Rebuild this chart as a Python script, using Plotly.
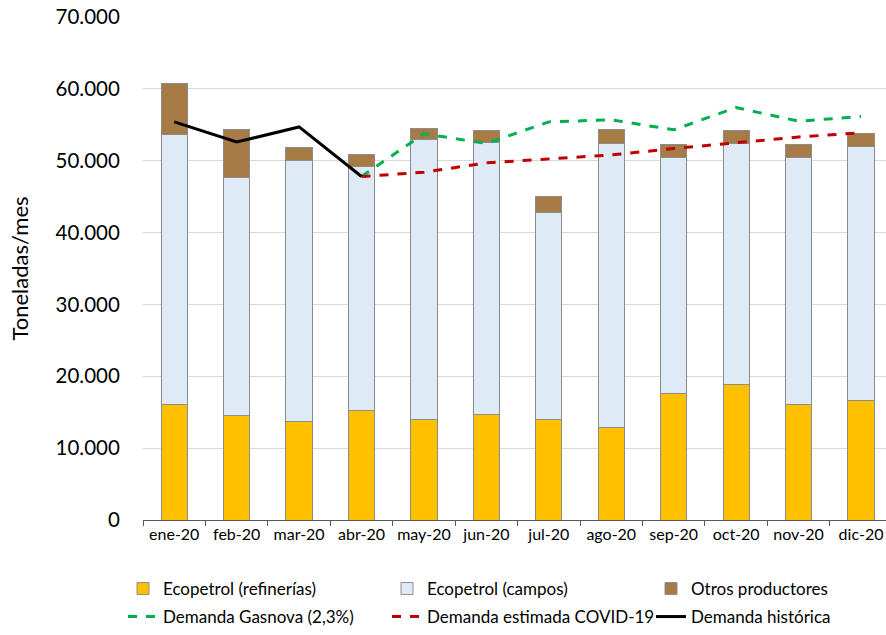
import plotly.graph_objects as go

meses = ["ene-20", "feb-20", "mar-20", "abr-20", "may-20", "jun-20",
         "jul-20", "ago-20", "sep-20", "oct-20", "nov-20", "dic-20"]

refinerias = [16100, 14500, 13700, 15200, 14000, 14700, 14000, 12900, 17600, 18900, 16100, 16600]
campos = [37500, 33200, 36300, 34000, 38900, 37800, 28800, 39500, 32900, 33550, 34400, 35400]
otros = [7100, 6700, 1800, 1600, 1600, 1700, 2200, 2000, 1800, 1750, 1800, 1850]

meses_hist = ["ene-20", "feb-20", "mar-20", "abr-20"]
demanda_historica = [55400, 52600, 54700, 47800]

meses_proy = ["abr-20", "may-20", "jun-20", "jul-20", "ago-20", "sep-20",
              "oct-20", "nov-20", "dic-20"]
demanda_gasnova = [47800, 53750, 52400, 55400, 55700, 54300, 57400, 55500, 56150]
demanda_covid = [47800, 48400, 49700, 50200, 50800, 51700, 52450, 53300, 53900]

FONT = "Lato, Calibri, sans-serif"
W, H = 886, 635
ML, MT, MB = 143, 17, 114
borde = dict(color="#8c8c8c", width=1)

fig = go.Figure()
fig.add_trace(go.Bar(x=meses, y=refinerias, name="Ecopetrol (refinerías)", legend="legend",
                     marker=dict(color="#FFC000", line=borde)))
fig.add_trace(go.Bar(x=meses, y=campos, name="Ecopetrol (campos)", legend="legend2",
                     marker=dict(color="#DEEAF6", line=borde)))
fig.add_trace(go.Bar(x=meses, y=otros, name="Otros productores", legend="legend3",
                     marker=dict(color="#A67B45", line=borde)))
fig.add_trace(go.Scatter(x=meses_proy, y=demanda_gasnova, name="Demanda Gasnova (2,3%)",
                         legend="legend4", mode="lines",
                         line=dict(color="#00B050", width=3, dash="dash")))
fig.add_trace(go.Scatter(x=meses_proy, y=demanda_covid, name="Demanda estimada COVID-19",
                         legend="legend5", mode="lines",
                         line=dict(color="#C00000", width=3, dash="dash")))
fig.add_trace(go.Scatter(x=meses_hist, y=demanda_historica, name="Demanda histórica",
                         legend="legend6", mode="lines",
                         line=dict(color="black", width=3)))

pw, ph = W - ML, H - MT - MB


def leyenda(px_x, px_y):
    return dict(x=(px_x - ML) / pw, y=(H - MB - px_y) / ph,
                xanchor="left", yanchor="middle", bgcolor="rgba(0,0,0,0)",
                font=dict(size=17, family=FONT, color="black"))


fig.update_layout(
    width=W, height=H,
    margin=dict(l=ML, r=0, t=MT, b=MB),
    barmode="stack", bargap=0.58, showlegend=True,
    plot_bgcolor="white", paper_bgcolor="white",
    separators=",.",
    font=dict(family=FONT, color="#000000", size=16),
    legend=leyenda(123, 589), legend2=leyenda(387, 589), legend3=leyenda(651, 589),
    legend4=leyenda(123, 618), legend5=leyenda(387, 618), legend6=leyenda(651, 618),
)
fig.update_xaxes(categoryorder="array", categoryarray=meses, range=[-0.5, 11.4],
                 showline=True, linecolor="#595959", linewidth=1, automargin=False,
                 ticks="outside", tickson="boundaries", ticklen=5, tickcolor="#595959",
                 tickangle=0, tickfont=dict(size=16))
fig.update_yaxes(range=[0, 70000], dtick=10000, tickformat=",d", automargin=False,
                 showgrid=True, gridcolor="#d9d9d9", zeroline=False,
                 ticklabeloverflow="allow",
                 tickfont=dict(size=20.5), ticks="outside", ticklen=18, tickcolor="white",
                 title=dict(text="Toneladas/mes", font=dict(size=22), standoff=20))

fig.write_html("out.html", config={"displayModeBar": False},
               post_script="document.body.style.margin='0px';")
